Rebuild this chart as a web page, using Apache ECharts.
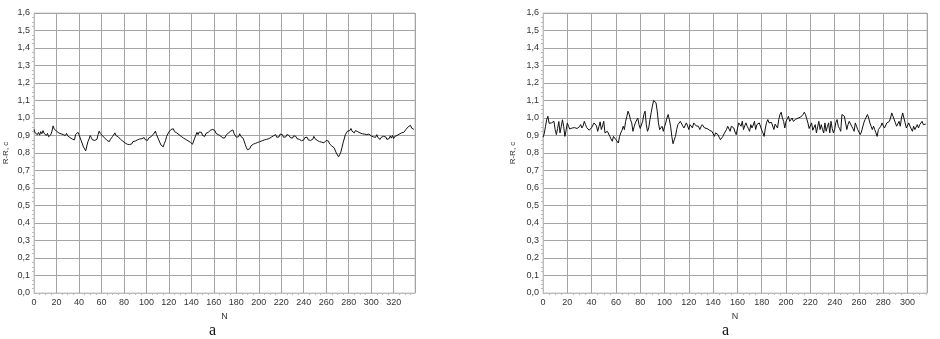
<!DOCTYPE html>
<html>
<head>
<meta charset="utf-8">
<script src="https://cdn.jsdelivr.net/npm/echarts@6/dist/echarts.min.js"></script>
<style>
  html, body { margin: 0; padding: 0; background: #fff; }
  #chart { width: 940px; height: 339px; }
</style>
</head>
<body>
<div id="chart"></div>
<script>
// R-R intervals, left record (N = 0..338)
const leftValues = [
  0.935, 0.915, 0.925, 0.905, 0.918, 0.902, 0.922, 0.910, 0.928, 0.912,
  0.915, 0.900, 0.912, 0.893, 0.885, 0.905, 0.925, 0.955, 0.938, 0.945,
  0.925, 0.935, 0.915, 0.922, 0.910, 0.920, 0.905, 0.915, 0.900, 0.912,
  0.898, 0.902, 0.888, 0.895, 0.880, 0.890, 0.875, 0.905, 0.900, 0.918,
  0.905, 0.898, 0.870, 0.860, 0.835, 0.845, 0.812, 0.840, 0.865, 0.880,
  0.900, 0.888, 0.875, 0.865, 0.872, 0.880, 0.878, 0.905, 0.925, 0.912,
  0.918, 0.898, 0.905, 0.885, 0.888, 0.872, 0.880, 0.865, 0.878, 0.872,
  0.895, 0.888, 0.915, 0.900, 0.910, 0.892, 0.898, 0.878, 0.885, 0.868,
  0.875, 0.858, 0.865, 0.850, 0.860, 0.848, 0.858, 0.852, 0.865, 0.855,
  0.868, 0.862, 0.875, 0.866, 0.880, 0.872, 0.882, 0.875, 0.888, 0.876,
  0.882, 0.872, 0.885, 0.878, 0.893, 0.885, 0.905, 0.912, 0.925, 0.905,
  0.898, 0.875, 0.868, 0.845, 0.848, 0.835, 0.855, 0.870, 0.895, 0.900,
  0.920, 0.912, 0.935, 0.928, 0.938, 0.922, 0.930, 0.915, 0.922, 0.905,
  0.912, 0.895, 0.902, 0.885, 0.892, 0.878, 0.885, 0.870, 0.878, 0.862,
  0.868, 0.850, 0.858, 0.885, 0.902, 0.918, 0.905, 0.920, 0.912, 0.918,
  0.900, 0.908, 0.895, 0.912, 0.902, 0.918, 0.915, 0.930, 0.922, 0.935,
  0.925, 0.928, 0.912, 0.920, 0.905, 0.915, 0.898, 0.905, 0.885, 0.892,
  0.888, 0.902, 0.898, 0.915, 0.905, 0.925, 0.918, 0.932, 0.912, 0.905,
  0.890, 0.900, 0.893, 0.910, 0.895, 0.902, 0.885, 0.868, 0.848, 0.830,
  0.818, 0.828, 0.825, 0.840, 0.835, 0.850, 0.842, 0.855, 0.848, 0.860,
  0.852, 0.865, 0.858, 0.870, 0.862, 0.875, 0.865, 0.878, 0.870, 0.882,
  0.878, 0.890, 0.882, 0.898, 0.888, 0.905, 0.890, 0.900, 0.892, 0.908,
  0.898, 0.905, 0.890, 0.900, 0.892, 0.905, 0.895, 0.900, 0.888, 0.895,
  0.885, 0.898, 0.888, 0.895, 0.882, 0.892, 0.878, 0.885, 0.870, 0.880,
  0.875, 0.888, 0.878, 0.890, 0.875, 0.885, 0.872, 0.882, 0.878, 0.895,
  0.882, 0.888, 0.872, 0.880, 0.865, 0.875, 0.862, 0.870, 0.858, 0.868,
  0.872, 0.862, 0.868, 0.852, 0.858, 0.840, 0.845, 0.830, 0.820, 0.800,
  0.792, 0.778, 0.790, 0.805, 0.830, 0.858, 0.880, 0.905, 0.912, 0.925,
  0.932, 0.928, 0.940, 0.925, 0.930, 0.915, 0.928, 0.935, 0.922, 0.930,
  0.915, 0.925, 0.910, 0.920, 0.908, 0.918, 0.905, 0.915, 0.908, 0.912,
  0.898, 0.905, 0.892, 0.902, 0.890, 0.905, 0.888, 0.895, 0.878, 0.890,
  0.880, 0.895, 0.885, 0.892, 0.878, 0.888, 0.882, 0.898, 0.885, 0.900,
  0.882, 0.895, 0.888, 0.900, 0.892, 0.908, 0.898, 0.915, 0.905, 0.918,
  0.912, 0.935, 0.928, 0.950, 0.945, 0.958, 0.942, 0.948, 0.935
];

// R-R intervals, right record (N = 0..315)
const rightValues = [
  0.890, 0.910, 0.950, 0.990, 1.010, 0.970, 0.965, 0.972, 0.975, 0.981,
  0.934, 0.905, 0.940, 0.980, 0.915, 0.950, 0.990, 0.953, 0.895, 0.930,
  0.972, 0.953, 0.937, 0.945, 0.943, 0.937, 0.945, 0.950, 0.940, 0.934,
  0.950, 0.962, 0.943, 0.955, 0.981, 0.962, 0.945, 0.934, 0.930, 0.924,
  0.945, 0.953, 0.972, 0.981, 0.955, 0.924, 0.950, 0.978, 0.934, 0.955,
  0.981, 0.915, 0.920, 0.924, 0.915, 0.895, 0.880, 0.867, 0.895, 0.885,
  0.876, 0.865, 0.857, 0.895, 0.915, 0.930, 0.953, 0.934, 0.981, 1.010,
  1.039, 1.020, 0.990, 0.972, 0.924, 0.950, 0.972, 0.981, 1.000, 0.962,
  0.940, 0.934, 0.981, 1.020, 1.039, 0.962, 0.924, 0.943, 0.990, 1.030,
  1.067, 1.100, 1.110, 1.087, 1.039, 0.972, 0.934, 0.945, 0.953, 0.924,
  0.950, 0.972, 1.000, 1.020, 0.990, 0.953, 0.895, 0.853, 0.875, 0.895,
  0.934, 0.962, 0.972, 0.981, 0.972, 0.955, 0.943, 0.953, 0.972, 0.955,
  0.934, 0.962, 0.953, 0.943, 0.972, 0.962, 0.955, 0.958, 0.953, 0.934,
  0.950, 0.962, 0.955, 0.943, 0.948, 0.940, 0.934, 0.930, 0.928, 0.924,
  0.910, 0.895, 0.915, 0.924, 0.905, 0.890, 0.876, 0.867, 0.895, 0.910,
  0.915, 0.934, 0.953, 0.943, 0.924, 0.953, 0.962, 0.943, 0.920, 0.905,
  0.895, 0.972, 0.962, 0.953, 0.981, 0.934, 0.955, 0.972, 0.953, 0.940,
  0.924, 0.962, 0.943, 0.960, 0.981, 0.934, 0.962, 0.970, 0.972, 0.972,
  0.930, 0.915, 0.895, 0.943, 0.975, 0.991, 0.972, 0.981, 0.975, 0.972,
  0.934, 0.965, 0.962, 0.943, 0.991, 1.020, 1.033, 1.000, 0.981, 0.943,
  0.981, 0.995, 1.010, 0.981, 0.990, 1.000, 0.981, 0.991, 0.993, 0.995,
  1.000, 1.000, 1.005, 1.010, 1.020, 1.033, 1.020, 1.010, 0.972, 0.940,
  0.934, 0.972, 0.930, 0.924, 0.962, 0.915, 0.950, 0.981, 0.934, 0.962,
  0.935, 0.915, 0.972, 0.924, 0.950, 0.972, 0.915, 0.981, 0.940, 0.915,
  0.934, 0.975, 0.991, 0.953, 0.940, 0.924, 1.020, 1.015, 1.010, 0.972,
  0.934, 0.962, 0.981, 0.991, 0.953, 0.940, 0.924, 0.972, 0.953, 0.934,
  0.934, 0.905, 0.920, 0.924, 0.972, 0.991, 1.000, 1.020, 1.000, 0.972,
  0.953, 0.934, 0.953, 0.934, 0.915, 0.895, 0.934, 0.943, 0.953, 0.972,
  0.955, 0.943, 0.934, 0.972, 0.962, 0.980, 1.000, 1.029, 1.010, 1.000,
  0.972, 0.953, 0.962, 0.981, 0.953, 1.000, 1.029, 1.000, 0.972, 0.943,
  0.934, 0.972, 0.953, 0.943, 0.924, 0.953, 0.934, 0.943, 0.962, 0.943,
  0.962, 0.972, 0.981, 0.962, 0.972, 0.965
];

const leftMaxN = 339;
const rightMaxN = 316;
const yName = 'R-R, c';
const xName = 'N';
const caption = 'a';

const chart = echarts.init(document.getElementById('chart'));

const labelFont = { fontFamily: 'Liberation Sans', fontSize: 9, color: '#333' };
const gridColor = '#a4a4a4';

const makeX = (gridIndex, max) => ({
  type: 'value',
  gridIndex,
  min: 0,
  max,
  interval: 20,
  name: xName,
  nameLocation: 'middle',
  nameGap: 15,
  nameTextStyle: { ...labelFont },
  axisLine: { show: true, lineStyle: { color: '#bbb' } },
  axisTick: { show: false },
  minorTick: { show: true, splitNumber: 4, length: 2, lineStyle: { color: '#bbb' } },
  axisLabel: { ...labelFont, margin: 5, showMaxLabel: false },
  splitLine: { show: true, lineStyle: { color: gridColor, width: 1 } }
});

const makeY = (gridIndex, gap) => ({
  type: 'value',
  gridIndex,
  min: 0,
  max: 1.6,
  interval: 0.1,
  name: yName,
  nameLocation: 'middle',
  nameRotate: 90,
  nameGap: gap,
  nameTextStyle: { ...labelFont, fontSize: 8 },
  axisLine: { show: true, lineStyle: { color: '#bbb' } },
  axisTick: { show: false },
  minorTick: { show: true, splitNumber: 4, length: 2, lineStyle: { color: '#bbb' } },
  axisLabel: {
    ...labelFont,
    margin: 4,
    formatter: v => v.toFixed(1).replace('.', ',')
  },
  splitLine: { show: true, lineStyle: { color: gridColor, width: 1 } }
});

chart.setOption({
  animation: false,
  backgroundColor: '#fff',
  grid: [
    { left: 34, top: 13, width: 381, height: 280, show: true, borderColor: '#c8c8c8', borderWidth: 1 },
    { left: 543, top: 13, width: 384, height: 280, show: true, borderColor: '#c8c8c8', borderWidth: 1 }
  ],
  xAxis: [makeX(0, leftMaxN), makeX(1, rightMaxN)],
  yAxis: [makeY(0, 24), makeY(1, 26)],
  graphic: [
    { type: 'text', left: 209, top: 323, style: { text: caption, font: '16px "Liberation Serif"', fill: '#111' } },
    { type: 'text', left: 722, top: 323, style: { text: caption, font: '16px "Liberation Serif"', fill: '#111' } }
  ],
  series: [
    {
      type: 'line',
      xAxisIndex: 0,
      yAxisIndex: 0,
      showSymbol: false,
      lineStyle: { color: '#111', width: 1 },
      data: leftValues.map((v, i) => [i, v])
    },
    {
      type: 'line',
      xAxisIndex: 1,
      yAxisIndex: 1,
      showSymbol: false,
      lineStyle: { color: '#111', width: 1 },
      data: rightValues.map((v, i) => [i, v])
    }
  ]
});
</script>
</body>
</html>
